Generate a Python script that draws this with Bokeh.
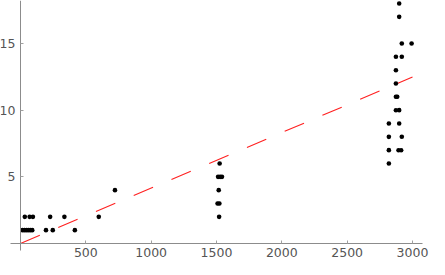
from bokeh.plotting import figure
from bokeh.models import FixedTicker, Range1d, LinearAxis
from bokeh.embed import file_html
from bokeh.resources import INLINE

# data
low_x = [15, 30, 45, 60, 75, 90, 195, 247, 416, 33, 70, 95, 227, 336, 599, 723]
low_y = [1, 1, 1, 1, 1, 1, 1, 1, 1, 2, 2, 2, 2, 2, 2, 4]
mid_x = [1524, 1512, 1528, 1542, 1517, 1508, 1522, 1520]
mid_y = [6, 5, 5, 5, 4, 3, 3, 2]
high_x = [2898, 2898, 2918, 2993, 2873, 2918, 2873, 2873, 2873, 2883,
          2873, 2898, 2819, 2898, 2819, 2918, 2819, 2893, 2913, 2819]
high_y = [18, 17, 15, 15, 14, 14, 13, 12, 11, 11,
          10, 10, 9, 9, 8, 8, 7, 7, 7, 6]
fit_slope = 0.00416
fit_x = [0, 3000]
x_ticks = [500, 1000, 1500, 2000, 2500, 3000]
y_ticks = [5, 10, 15]

xs = low_x + mid_x + high_x
ys = low_y + mid_y + high_y
fit_y = [fit_slope * v for v in fit_x]

p = figure(width=429, height=259, output_backend="svg", toolbar_location=None,
           x_range=Range1d(-153, 3130), y_range=Range1d(-1.2, 18.225),
           min_border=0, x_axis_location=None, y_axis_location=None)
p.outline_line_color = None
p.grid.visible = False

xa = LinearAxis(fixed_location=0, ticker=FixedTicker(ticks=x_ticks), bounds=(-78, 3074))
ya = LinearAxis(fixed_location=0, ticker=FixedTicker(ticks=y_ticks), bounds=(-0.5, 18.225))
for ax in (xa, ya):
    ax.axis_line_color = "#8c8c8c"
    ax.axis_line_width = 1
    ax.major_tick_line_color = "#a0a0a0"
    ax.major_tick_in = 3
    ax.major_tick_out = 0
    ax.minor_tick_line_color = None
    ax.major_label_text_color = "#555555"
    ax.major_label_text_font = "DejaVu Sans"
    ax.major_label_text_font_size = "12.5px"
xa.major_label_standoff = 4
ya.major_label_standoff = 5
p.add_layout(xa, "below")
p.add_layout(ya, "left")

p.line(fit_x, fit_y, line_color="#ff2020", line_width=1.1, line_dash="21 20")
p.scatter(xs, ys, size=4.6, fill_color="black", line_color=None)

open("out.html", "w").write(file_html(p, INLINE))
